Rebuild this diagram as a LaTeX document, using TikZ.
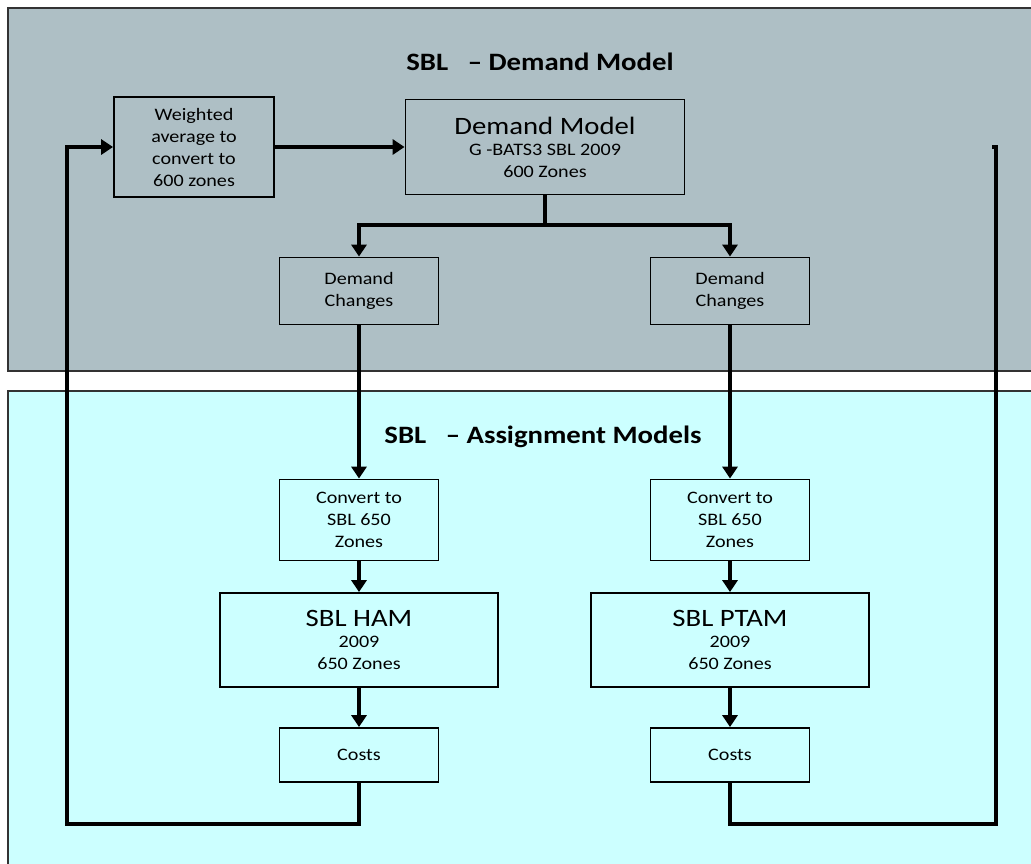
\documentclass[tikz,border=0pt]{standalone}
\usepackage{fontspec}
\setmainfont{Carlito}[FakeStretch = 1.15]
\usetikzlibrary{arrows.meta}
\definecolor{demandgray}{RGB}{174,191,197}
\definecolor{assigncyan}{RGB}{204,255,255}
\tikzset{panel/.style = {draw = black!80, line width = 1.4pt}}
\tikzset{blk/.style = {draw, line width = 1.8pt, align = center, inner sep = 0,
                       font = \fontsize{17.5}{22}\selectfont}}
\tikzset{flow/.style = {line width = 3.6pt, -{Triangle[length = 12pt, width = 15pt]}}}
\tikzset{link/.style = {line width = 3.6pt}}
\tikzset{heading/.style = {font = \bfseries\fontsize{25}{28}\selectfont}}
\newcommand{\bigline}[1]{{\fontsize{25}{27}\selectfont #1}}

\begin{document}
\begin{tikzpicture}[x = 1pt, y = -1pt]
      \useasboundingbox (0, 0) rectangle (1031, 863);
      \fill [white] (0, 0) rectangle (1031, 863);

      \draw [panel, fill = demandgray] (8, 8) rectangle (1045, 371);
      \draw [panel, fill = assigncyan] (8, 391) rectangle (1045, 880);

      \node [heading] (demandtitle) at (540, 62) {SBL\ \ \ -- Demand Model};
      \node [heading] (assigntitle) at (543, 437) {SBL\ \ \ -- Assignment Models};

      % demand side
      \node [blk, minimum width = 160, minimum height = 100] (wavg) at (194, 147)
            {Weighted\\average to\\convert to\\600 zones};
      \node [blk, minimum width = 279, minimum height = 95] (dmodel) at (545, 147)
            {\bigline{Demand Model}\\[-1pt]G -BATS3 SBL 2009\\600 Zones};
      \node [blk, minimum width = 159, minimum height = 67] (chgL) at (359, 291) {Demand\\Changes};
      \node [blk, minimum width = 159, minimum height = 67] (chgR) at (730, 291) {Demand\\Changes};

      % assignment side
      \node [blk, minimum width = 159, minimum height = 81] (convL) at (359, 520) {Convert to\\SBL 650\\Zones};
      \node [blk, minimum width = 159, minimum height = 81] (convR) at (730, 520) {Convert to\\SBL 650\\Zones};
      \node [blk, minimum width = 278, minimum height = 94] (ham) at (359, 640)
            {\bigline{SBL HAM}\\[-1pt]2009\\650 Zones};
      \node [blk, minimum width = 278, minimum height = 94] (ptam) at (730, 640)
            {\bigline{SBL PTAM}\\[-1pt]2009\\650 Zones};
      \node [blk, minimum width = 159, minimum height = 54] (costL) at (359, 755) {Costs};
      \node [blk, minimum width = 159, minimum height = 54] (costR) at (730, 755) {Costs};

      \coordinate (split) at (545, 225);
      \coordinate (loopL) at (67, 824);
      \coordinate (loopR) at (996, 824);
      \coordinate (loopRtop) at (996, 147);

      \draw [flow] (wavg) -- (dmodel);
      \draw [link] (dmodel.south) -- (split);
      \draw [flow] (split) -| (chgL.north);
      \draw [flow] (split) -| (chgR.north);

      \draw [flow] (chgL) -- (convL);
      \draw [flow] (chgR) -- (convR);
      \draw [flow] (convL) -- (ham);
      \draw [flow] (convR) -- (ptam);
      \draw [flow] (ham) -- (costL);
      \draw [flow] (ptam) -- (costR);

      \draw [flow] (costL.south) |- (loopL) |- (wavg.west);
      \draw [link] (costR.south) |- (loopR) -- (loopRtop) -- ++(-4, 0);
\end{tikzpicture}
\end{document}
